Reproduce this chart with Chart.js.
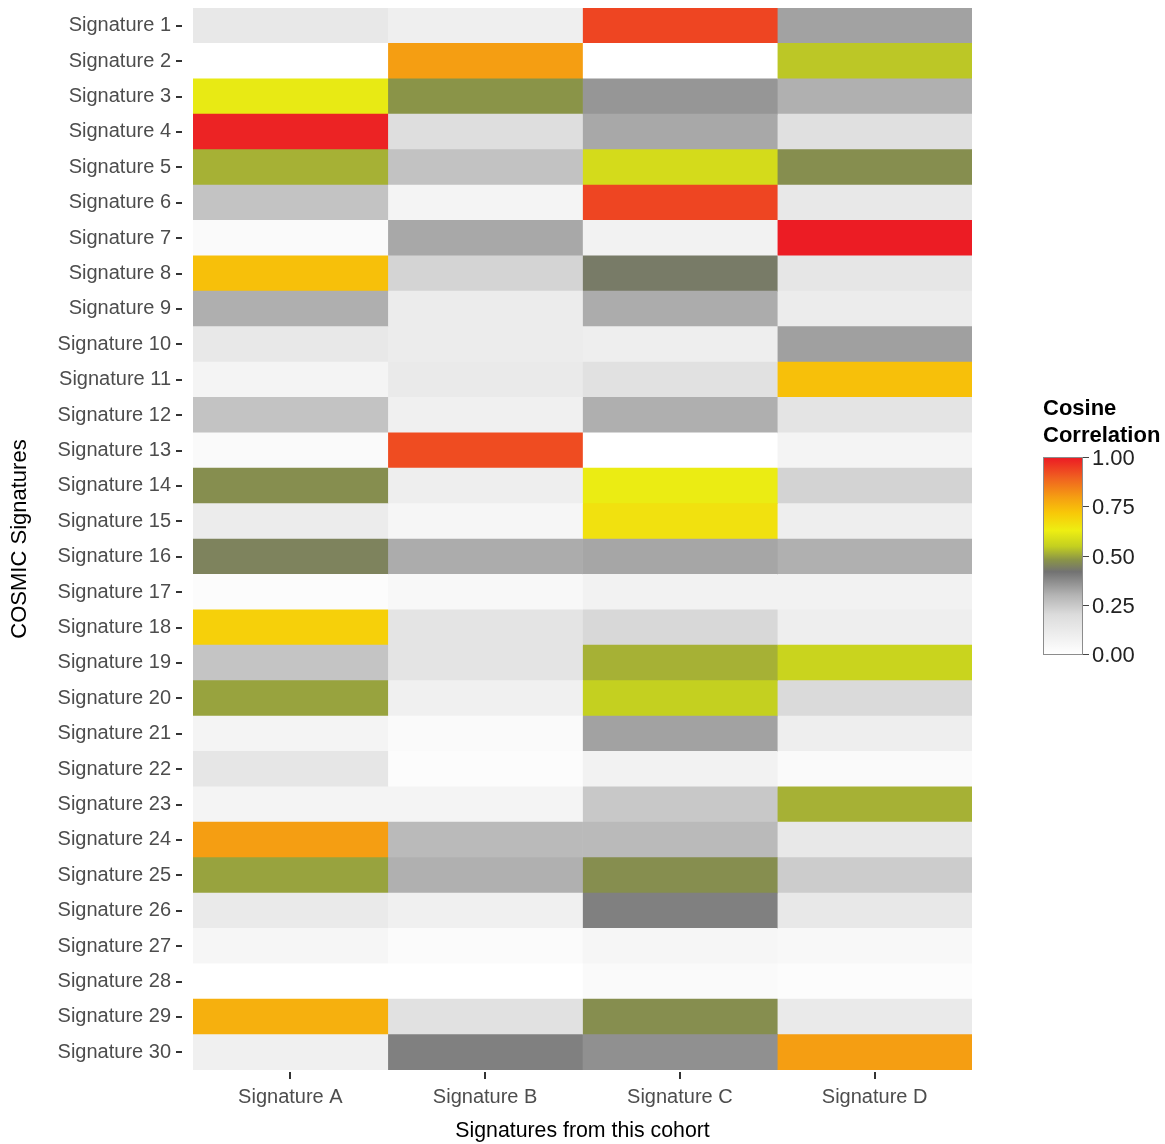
<!DOCTYPE html>
<html>
<head>
<meta charset="utf-8">
<title>Cosine correlation of signatures</title>
<script src="https://cdn.jsdelivr.net/npm/chart.js@4.4.1/dist/chart.umd.min.js"></script>
<style>
  html, body { margin: 0; padding: 0; background: #ffffff; }
  #wrap { position: relative; width: 1165px; height: 1144px; overflow: hidden; }
  #heatmap { position: absolute; left: 0; top: 0; }
  .legend-title { position: absolute; left: 1043px; top: 394px; font: bold 22px "Liberation Sans", Arial, sans-serif; line-height: 27px; color: #000; white-space: nowrap; }
  #colorbar { position: absolute; left: 1043px; top: 457px; width: 40px; height: 198px; box-sizing: border-box; border: 1px solid #8c8c8c; }
  .cb-tick { position: absolute; width: 6px; height: 1px; background: #444; }
  .cb-label { position: absolute; font: 22px "Liberation Sans", Arial, sans-serif; color: #222; line-height: 1; transform: translateY(-50%); white-space: nowrap; }
</style>
</head>
<body>
<div id="wrap">
  <canvas id="heatmap" width="1165" height="1144"></canvas>
  <div class="legend-title">Cosine<br>Correlation</div>
  <div id="colorbar"></div>
</div>
<script>
// Row categories (COSMIC reference signatures)
const cosmicSignatures = [
  'Signature 1', 'Signature 2', 'Signature 3', 'Signature 4', 'Signature 5',
  'Signature 6', 'Signature 7', 'Signature 8', 'Signature 9', 'Signature 10',
  'Signature 11', 'Signature 12', 'Signature 13', 'Signature 14', 'Signature 15',
  'Signature 16', 'Signature 17', 'Signature 18', 'Signature 19', 'Signature 20',
  'Signature 21', 'Signature 22', 'Signature 23', 'Signature 24', 'Signature 25',
  'Signature 26', 'Signature 27', 'Signature 28', 'Signature 29', 'Signature 30'
];

// Column categories (signatures extracted from the cohort)
const cohortSignatures = ['Signature A', 'Signature B', 'Signature C', 'Signature D'];

// Cosine correlation of each cohort signature with COSMIC signatures 1..30
const signatureA = [0.131, 0.00, 0.619, 0.99, 0.514, 0.262, 0.029, 0.735, 0.31, 0.131,
                    0.063, 0.262, 0.029, 0.47, 0.109, 0.45, 0.017, 0.70, 0.26, 0.497,
                    0.063, 0.143, 0.063, 0.80, 0.497, 0.12, 0.051, 0.00, 0.766, 0.086];
const signatureB = [0.09, 0.80, 0.48, 0.19, 0.265, 0.063, 0.322, 0.22, 0.11, 0.109,
                    0.12, 0.086, 0.93, 0.097, 0.051, 0.315, 0.04, 0.154, 0.154, 0.086,
                    0.029, 0.017, 0.063, 0.285, 0.307, 0.086, 0.023, 0.00, 0.17, 0.395];
const signatureC = [0.94, 0.00, 0.355, 0.322, 0.58, 0.94, 0.074, 0.435, 0.315, 0.097,
                    0.17, 0.31, 0.00, 0.625, 0.66, 0.325, 0.074, 0.21, 0.514, 0.55,
                    0.333, 0.074, 0.25, 0.285, 0.47, 0.395, 0.051, 0.029, 0.47, 0.365];
const signatureD = [0.333, 0.54, 0.307, 0.18, 0.47, 0.131, 1.00, 0.143, 0.109, 0.336,
                    0.735, 0.154, 0.063, 0.222, 0.097, 0.307, 0.074, 0.097, 0.56, 0.205,
                    0.097, 0.029, 0.514, 0.131, 0.24, 0.131, 0.04, 0.017, 0.12, 0.80];

// Colour-bar tick labels
const legendTicks = ['0.00', '0.25', '0.50', '0.75', '1.00'];

// Fill scale: white -> grey -> olive -> yellow -> orange -> red
const colorStops = [
  [0.00, '#ffffff'],
  [0.20, '#dcdcdc'],
  [0.30, '#b4b4b4'],
  [0.42, '#727272'],
  [0.48, '#8a9448'],
  [0.55, '#c4d020'],
  [0.63, '#eeee12'],
  [0.72, '#f8c808'],
  [0.80, '#f59e12'],
  [0.90, '#f06020'],
  [1.00, '#ec1c24']
];

const columns = [signatureA, signatureB, signatureC, signatureD];
const FONT = '"Liberation Sans", Arial, Helvetica, sans-serif';

function hexToRgb(h) {
  const n = parseInt(h.slice(1), 16);
  return [(n >> 16) & 255, (n >> 8) & 255, n & 255];
}

function valueToColor(v) {
  v = Math.max(0, Math.min(1, v));
  for (let i = 1; i < colorStops.length; i++) {
    const [v1, c1] = colorStops[i];
    if (v <= v1) {
      const [v0, c0] = colorStops[i - 1];
      const t = (v - v0) / (v1 - v0);
      const a = hexToRgb(c0), b = hexToRgb(c1);
      const rgb = a.map((x, k) => Math.round(x + (b[k] - x) * t));
      return `rgb(${rgb[0]},${rgb[1]},${rgb[2]})`;
    }
  }
  return colorStops[colorStops.length - 1][1];
}

// Small tick marks next to the axis labels, set slightly apart from the panel
const tickMarks = {
  id: 'tickMarks',
  afterDraw(chart) {
    const { ctx, chartArea, scales } = chart;
    ctx.save();
    ctx.strokeStyle = '#333333';
    ctx.lineWidth = 2;
    scales.y.ticks.forEach((t, i) => {
      const py = Math.round(scales.y.getPixelForTick(i));
      ctx.beginPath();
      ctx.moveTo(chartArea.left - 17, py);
      ctx.lineTo(chartArea.left - 11, py);
      ctx.stroke();
    });
    scales.x.ticks.forEach((t, i) => {
      const px = Math.round(scales.x.getPixelForTick(i));
      ctx.beginPath();
      ctx.moveTo(px, chartArea.bottom + 2);
      ctx.lineTo(px, chartArea.bottom + 9);
      ctx.stroke();
    });
    ctx.restore();
  }
};

new Chart(document.getElementById('heatmap'), {
  type: 'bar',
  data: {
    labels: cosmicSignatures,
    datasets: cohortSignatures.map((name, i) => ({
      label: name,
      data: cosmicSignatures.map(() => 1),
      backgroundColor: columns[i].map(valueToColor),
      borderWidth: 0,
      categoryPercentage: 1,
      barPercentage: 1
    }))
  },
  options: {
    indexAxis: 'y',
    responsive: false,
    animation: false,
    layout: { padding: { top: 8, right: 193, left: 0, bottom: 0 } },
    plugins: { legend: { display: false }, tooltip: { enabled: false } },
    scales: {
      x: {
        type: 'linear',
        stacked: true,
        min: 0,
        max: cohortSignatures.length,
        afterFit(scale) {
          scale.height = 74;
          scale.paddingLeft = 0;
          scale.paddingRight = 0;
        },
        afterBuildTicks(scale) {
          scale.ticks = cohortSignatures.map((_, i) => ({ value: i + 0.5 }));
        },
        ticks: {
          autoSkip: false,
          maxRotation: 0,
          padding: 15,
          color: '#4d4d4d',
          font: { family: FONT, size: 20 },
          callback: (v) => cohortSignatures[Math.floor(v)]
        },
        grid: { display: false, drawTicks: false },
        border: { display: false },
        title: {
          display: true,
          text: 'Signatures from this cohort',
          color: '#000000',
          font: { family: FONT, size: 21.3 },
          padding: { top: 0, bottom: 0 }
        }
      },
      y: {
        type: 'category',
        stacked: true,
        afterFit(scale) {
          scale.width = 193;
          scale.paddingTop = 0;
          scale.paddingBottom = 0;
        },
        ticks: {
          autoSkip: false,
          padding: 22,
          color: '#4d4d4d',
          font: { family: FONT, size: 20 }
        },
        grid: { display: false, drawTicks: false },
        border: { display: false },
        title: {
          display: true,
          text: 'COSMIC Signatures',
          color: '#000000',
          font: { family: FONT, size: 22 },
          padding: { top: 7, bottom: 0 }
        }
      }
    }
  },
  plugins: [tickMarks]
});

// Colour bar legend
(function buildColorbar() {
  const bar = document.getElementById('colorbar');
  const grad = colorStops.map(([v, c]) => `${c} ${(v * 100).toFixed(1)}%`).join(', ');
  bar.style.background = `linear-gradient(to top, ${grad})`;
  const wrap = document.getElementById('wrap');
  const top = 457, height = 198, right = 1083;
  legendTicks.forEach((lab) => {
    const v = parseFloat(lab);
    const y = top + height - v * (height - 1) - 1;
    const tk = document.createElement('div');
    tk.className = 'cb-tick';
    tk.style.left = right + 'px';
    tk.style.top = Math.round(y) + 'px';
    wrap.appendChild(tk);
    const t = document.createElement('div');
    t.className = 'cb-label';
    t.style.left = (right + 9) + 'px';
    t.style.top = (y + 1) + 'px';
    t.textContent = lab;
    wrap.appendChild(t);
  });
})();
</script>
</body>
</html>
